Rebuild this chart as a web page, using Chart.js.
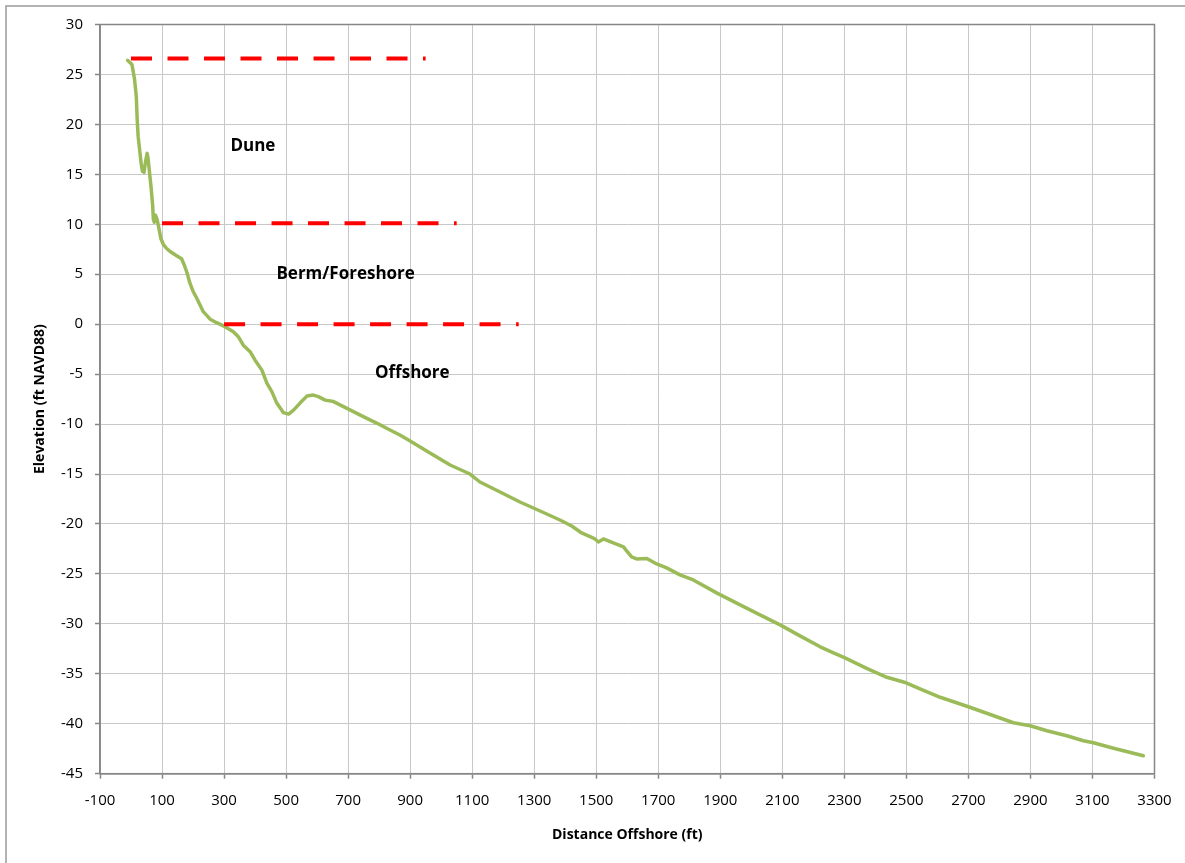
<!DOCTYPE html>
<html>
<head>
<meta charset="utf-8">
<script src="https://cdn.jsdelivr.net/npm/chart.js@4.4.1/dist/chart.umd.min.js"></script>
<style>
  html, body { margin: 0; padding: 0; background: #ffffff; }
  #wrap { width: 1185px; height: 863px; position: relative; }
  canvas { display: block; }
</style>
</head>
<body>
<div id="wrap"><canvas id="profile" width="1185" height="863"></canvas></div>
<script>
// Beach profile: distance offshore (ft) and elevation (ft NAVD88)
const distanceFt = [
  -11, -7, 3, 11, 17, 20, 23, 28, 33, 37, 42, 47, 52, 55, 59, 65, 70, 72, 75, 79,
  84, 90, 96, 104, 114, 125, 142, 163, 172, 180, 190, 200, 212, 233, 255, 276, 303, 330, 346, 362,
  384, 400, 422, 438, 454, 470, 491, 508, 524, 545, 567, 588, 604, 626, 653, 685, 717, 749, 792, 835,
  867, 900, 964, 1029, 1093, 1125, 1190, 1254, 1319, 1383, 1421, 1453, 1496, 1507, 1523, 1555, 1588, 1598, 1614, 1630,
  1663, 1695, 1727, 1770, 1813, 1888, 1964, 2028, 2093, 2157, 2222, 2265, 2302, 2372, 2437, 2499, 2544, 2609, 2700, 2759,
  2845, 2899, 2953, 3017, 3071, 3103, 3168, 3232, 3264
];
const elevationFt = [
  26.4, 26.3, 26.0, 24.6, 22.8, 20.4, 18.8, 17.4, 16.0, 15.3, 15.2, 16.3, 17.1, 16.6, 15.4, 13.6, 11.8, 10.5, 10.2, 10.9,
  10.5, 9.6, 8.6, 8.0, 7.6, 7.3, 6.95, 6.55, 5.9, 5.2, 4.1, 3.3, 2.6, 1.25, 0.5, 0.15, -0.25, -0.75, -1.25, -2.1,
  -2.75, -3.6, -4.6, -5.9, -6.75, -7.9, -8.85, -9.0, -8.6, -7.9, -7.2, -7.1, -7.25, -7.6, -7.75, -8.25, -8.75, -9.25, -9.9, -10.6,
  -11.1, -11.7, -12.9, -14.1, -15.0, -15.8, -16.8, -17.8, -18.7, -19.6, -20.2, -20.9, -21.5, -21.8, -21.5, -21.9, -22.3, -22.7, -23.3, -23.5,
  -23.45, -24.0, -24.4, -25.1, -25.6, -26.9, -28.1, -29.1, -30.1, -31.2, -32.3, -32.9, -33.4, -34.45, -35.35, -35.9, -36.5, -37.35, -38.3, -38.95,
  -39.9, -40.2, -40.7, -41.2, -41.7, -41.9, -42.45, -42.95, -43.2
];

// Zone boundary lines (start/end distance, elevation)
const duneTopX = [0, 950];
const duneTopY = [26.6, 26.6];
const bermTopX = [100, 1050];
const bermTopY = [10.1, 10.1];
const shorelineX = [300, 1250];
const shorelineY = [0, 0];

// Zone names and where they sit (distance, elevation)
const zoneNames = ['Dune', 'Berm/Foreshore', 'Offshore'];
const zoneX = [393, 692, 907];
const zoneY = [17.8, 5.0, -4.95];

// Axis ranges and tick spacing
const xMin = -100, xMax = 3300, xStep = 200;
const yMin = -45, yMax = 30, yStep = 5;

const FONT = '"Open Sans", "Liberation Sans", sans-serif';
const W = 1185, H = 863;
const plotLeft = 100, plotRight = 1154.5, plotTop = 24.5, plotBottom = 773.7;

const toPoints = (xs, ys) => xs.map((x, i) => ({ x: x, y: ys[i] }));
const plainNumber = (value) => String(value);

const dashedStyle = {
  borderColor: '#ff0000',
  borderWidth: 4,
  borderDash: [21, 15.5],
  borderCapStyle: 'butt',
  pointRadius: 0,
  fill: false,
  order: 0
};

// Outer frame of the chart
const framePlugin = {
  id: 'frame',
  beforeDraw(chart) {
    const ctx = chart.ctx;
    ctx.save();
    ctx.fillStyle = '#ffffff';
    ctx.fillRect(0, 0, W, H);
    ctx.strokeStyle = '#9a9a9a';
    ctx.lineWidth = 1.5;
    ctx.beginPath();
    ctx.moveTo(6, H);
    ctx.lineTo(6, 6);
    ctx.lineTo(W, 6);
    ctx.stroke();
    ctx.restore();
  },
  beforeDatasetsDraw(chart) {
    const a = chart.chartArea;
    const ctx = chart.ctx;
    ctx.save();
    ctx.strokeStyle = '#868686';
    ctx.lineWidth = 1.5;
    ctx.strokeRect(a.left, a.top, a.right - a.left, a.bottom - a.top);
    ctx.restore();
  }
};

// Zone name labels placed in data coordinates
const zoneLabelPlugin = {
  id: 'zoneLabels',
  afterDatasetsDraw(chart) {
    const ctx = chart.ctx;
    const sx = chart.scales.x, sy = chart.scales.y;
    ctx.save();
    ctx.font = 'bold 17px ' + FONT;
    ctx.fillStyle = '#000000';
    ctx.textAlign = 'center';
    ctx.textBaseline = 'middle';
    zoneNames.forEach((name, i) => {
      ctx.fillText(name, sx.getPixelForValue(zoneX[i]), sy.getPixelForValue(zoneY[i]));
    });
    ctx.restore();
  }
};

new Chart(document.getElementById('profile'), {
  type: 'line',
  data: {
    datasets: [
      Object.assign({ label: 'Dune crest', data: toPoints(duneTopX, duneTopY) }, dashedStyle),
      Object.assign({ label: 'Berm crest', data: toPoints(bermTopX, bermTopY) }, dashedStyle),
      Object.assign({ label: 'Shoreline', data: toPoints(shorelineX, shorelineY) }, dashedStyle),
      {
        label: 'Profile',
        data: toPoints(distanceFt, elevationFt),
        borderColor: '#9bbb59',
        borderWidth: 3.5,
        borderJoinStyle: 'round',
        borderCapStyle: 'round',
        pointRadius: 0,
        tension: 0,
        fill: false,
        order: 1
      }
    ]
  },
  options: {
    responsive: false,
    animation: false,
    devicePixelRatio: 1,
    layout: { padding: { left: 0, top: plotTop, right: W - plotRight, bottom: 0 } },
    plugins: { legend: { display: false }, tooltip: { enabled: false } },
    scales: {
      x: {
        type: 'linear',
        min: xMin, max: xMax,
        ticks: {
          stepSize: xStep, autoSkip: false, maxRotation: 0,
          color: '#000000', padding: 13,
          font: { family: FONT, size: 15 },
          callback: plainNumber
        },
        grid: { color: '#c8c8c8', lineWidth: 1, tickLength: 5, tickColor: '#868686', tickWidth: 1.5 },
        border: { color: '#868686', width: 1.5 },
        title: {
          display: true, text: 'Distance Offshore (ft)', color: '#000000',
          font: { family: FONT, size: 14, weight: 'bold' },
          padding: { top: 0, bottom: 19.6 }
        },
        afterFit(scale) { scale.height = H - plotBottom; }
      },
      y: {
        type: 'linear',
        min: yMin, max: yMax,
        ticks: {
          stepSize: yStep, autoSkip: false,
          color: '#000000', padding: 12,
          font: { family: FONT, size: 15 },
          callback: plainNumber
        },
        grid: { color: '#c8c8c8', lineWidth: 1, tickLength: 5, tickColor: '#868686', tickWidth: 1.5 },
        border: { color: '#868686', width: 1.5 },
        title: {
          display: true, text: 'Elevation (ft NAVD88)', color: '#000000',
          font: { family: FONT, size: 14, weight: 'bold' },
          padding: { top: 31.6, bottom: 0 }
        },
        afterFit(scale) { scale.width = plotLeft; }
      }
    }
  },
  plugins: [framePlugin, zoneLabelPlugin]
});
</script>
</body>
</html>
